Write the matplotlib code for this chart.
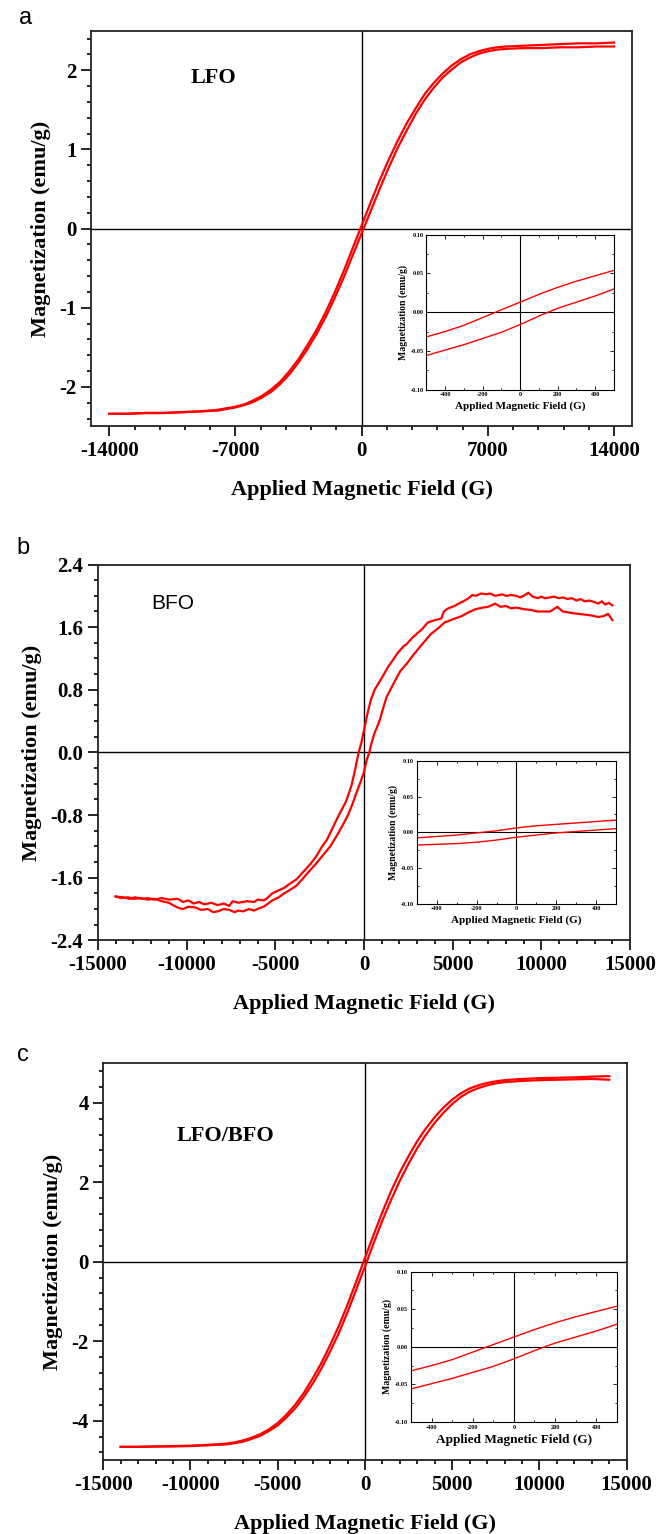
import matplotlib
matplotlib.use('Agg')
import matplotlib.pyplot as plt
from matplotlib.ticker import MultipleLocator, FormatStrFormatter

plt.rcParams['font.family'] = ['Liberation Serif', 'DejaVu Serif']
plt.rcParams['font.weight'] = 'bold'
plt.rcParams['axes.unicode_minus'] = False

# ---- panel a : LFO ----
lfo_h = [14000, 13000, 12000, 11000, 10000, 9000, 8000, 7500, 7000, 6500, 6000, 5500, 5000,
         4500, 4000, 3500, 3000, 2500, 2000, 1500, 1000, 500, 0, -500, -1000, -1500, -2000,
         -2500, -3000, -3500, -4000, -4500, -5000, -5500, -6000, -6500, -7000, -7500, -8000,
         -9000, -10000, -11000, -12000, -13000, -14000]
lfo_down = [2.35, 2.34, 2.34, 2.33, 2.32, 2.31, 2.30, 2.29, 2.27, 2.24, 2.20, 2.14, 2.06,
            1.96, 1.84, 1.70, 1.52, 1.33, 1.11, 0.87, 0.61, 0.33, 0.04, -0.25, -0.54, -0.81, -1.06,
            -1.28, -1.47, -1.65, -1.80, -1.93, -2.03, -2.11, -2.17, -2.22, -2.25, -2.27, -2.29,
            -2.31, -2.32, -2.33, -2.33, -2.34, -2.34]
lfo_up = [2.30, 2.30, 2.29, 2.29, 2.28, 2.28, 2.27, 2.26, 2.24, 2.21, 2.16, 2.10, 2.01,
          1.91, 1.78, 1.63, 1.45, 1.24, 1.02, 0.77, 0.50, 0.22, -0.06, -0.34, -0.62, -0.88, -1.12,
          -1.33, -1.52, -1.69, -1.84, -1.96, -2.06, -2.13, -2.19, -2.23, -2.26, -2.28, -2.30,
          -2.31, -2.32, -2.33, -2.33, -2.34, -2.34]

# ---- panel b : BFO (noisy) ----
bfo_down_h = [14000, 13800, 13600, 13400, 13200, 13000, 12700, 12440, 12200, 12000, 11700, 11460,
              11200, 11000, 10700, 10500, 10200, 10000, 9800, 9500, 9270, 9000, 8800, 8600, 8300,
              8000, 7800, 7640, 7400, 7100, 6900, 6600, 6300, 6100, 5900, 5600, 5330, 5100, 4750,
              4500, 4360, 4000, 3600, 3300, 3000, 2700, 2400, 2250, 1900, 1600, 1380, 1000, 600,
              400, 200, 0, -150, -300, -500, -700, -1000, -1460, -1800, -2100, -2360, -2700, -3000,
              -3400, -3800, -4200, -4500, -4800, -5170, -5450, -5650, -6000, -6200, -6600, -7080,
              -7400, -7600, -7900, -8260, -8600, -9000, -9300, -9600, -9900, -10200, -10500, -11000,
              -11400, -11800, -12200, -12500, -12900, -13200, -13600, -14000]
bfo_down = [1.88, 1.91, 1.89, 1.93, 1.90, 1.92, 1.94, 1.93, 1.96, 1.94, 1.97, 1.96,
            1.98, 1.97, 1.99, 1.98, 1.97, 1.99, 1.97, 1.99, 2.04, 2.00, 1.98, 2.00, 2.01,
            2.00, 2.02, 2.01, 2.00, 2.03, 2.02, 2.03, 2.00, 2.01, 1.97, 1.93, 1.90, 1.87, 1.84,
            1.80, 1.71, 1.69, 1.66, 1.58, 1.52, 1.46, 1.38, 1.36, 1.27, 1.17, 1.10, 0.95, 0.80,
            0.68, 0.50, 0.28, 0.12, 0.0, -0.22, -0.42, -0.62, -0.82, -0.98, -1.12, -1.20, -1.33, -1.42,
            -1.52, -1.62, -1.68, -1.73, -1.76, -1.80, -1.86, -1.89, -1.88, -1.91, -1.90, -1.92,
            -1.90, -1.96, -1.93, -1.95, -1.92, -1.94, -1.91, -1.93, -1.89, -1.91, -1.87, -1.88,
            -1.86, -1.88, -1.86, -1.87, -1.85, -1.87, -1.85, -1.84]
bfo_up_h = [-14000, -13700, -13300, -13000, -12600, -12200, -11800, -11400, -11000, -10700, -10400,
            -10200, -9900, -9500, -9200, -8800, -8500, -8260, -7900, -7600, -7300, -7080, -6800,
            -6500, -6200, -5900, -5650, -5400, -5170, -4800, -4500, -4200, -3800, -3400, -3100,
            -2700, -2300, -1900, -1500, -1200, -900, -650, -400, -200, 0, 150, 300, 450, 600, 750,
            900, 1100, 1280, 1600, 2050, 2400, 2800, 3200, 3760, 4100, 4550, 5000, 5500, 5900, 6300,
            6700, 7000, 7400, 7700, 8000, 8300, 8600, 9000, 9400, 9800, 10100, 10500, 10900, 11200,
            11500, 11700, 12100, 12450, 12800, 13200, 13500, 13760, 14000]
bfo_up = [-1.84, -1.86, -1.85, -1.87, -1.86, -1.88, -1.87, -1.90, -1.92, -1.96, -1.99,
          -2.00, -1.97, -1.98, -2.01, -2.00, -2.04, -2.03, -2.00, -2.01, -2.04, -2.02, -2.03,
          -2.00, -2.02, -1.99, -1.97, -1.93, -1.89, -1.85, -1.80, -1.76, -1.70, -1.60, -1.52,
          -1.42, -1.31, -1.20, -1.05, -0.93, -0.80, -0.66, -0.50, -0.38, -0.25, -0.10, 0.0, 0.14, 0.25, 0.33,
          0.42, 0.58, 0.71, 0.85, 1.04, 1.13, 1.25, 1.36, 1.51, 1.57, 1.66, 1.70, 1.74, 1.79, 1.83,
          1.85, 1.86, 1.90, 1.86, 1.87, 1.84, 1.85, 1.83, 1.82, 1.80, 1.80, 1.80, 1.86, 1.80,
          1.79, 1.78, 1.77, 1.76, 1.75, 1.73, 1.74, 1.77, 1.69]

# ---- panel c : LFO/BFO ----
mix_h = lfo_h
mix_down = [4.67, 4.66, 4.64, 4.63, 4.62, 4.60, 4.57, 4.54, 4.50, 4.44, 4.36, 4.24, 4.08,
            3.88, 3.64, 3.36, 3.04, 2.66, 2.25, 1.78, 1.25, 0.68, 0.10, -0.50, -1.08, -1.62, -2.10,
            -2.55, -2.94, -3.30, -3.60, -3.85, -4.06, -4.22, -4.34, -4.43, -4.50, -4.55, -4.58,
            -4.61, -4.63, -4.64, -4.65, -4.66, -4.66]
mix_up = [4.58, 4.60, 4.59, 4.58, 4.57, 4.55, 4.52, 4.49, 4.44, 4.37, 4.28, 4.15, 3.97,
          3.75, 3.50, 3.20, 2.86, 2.47, 2.04, 1.56, 1.04, 0.47, -0.12, -0.70, -1.27, -1.80, -2.26,
          -2.69, -3.07, -3.40, -3.69, -3.92, -4.12, -4.26, -4.38, -4.46, -4.53, -4.57, -4.60,
          -4.62, -4.64, -4.65, -4.65, -4.66, -4.66]

# ---- insets (low field) ----
ins_h = [-500, -400, -300, -200, -100, 0, 100, 200, 300, 400, 500]
lfo_ins_upper = [-0.032, -0.025, -0.017, -0.007, 0.003, 0.013, 0.023, 0.032, 0.040, 0.047, 0.054]
lfo_ins_lower = [-0.056, -0.049, -0.042, -0.034, -0.026, -0.016, -0.005, 0.005, 0.013, 0.021, 0.030]
bfo_ins_upper = [-0.008, -0.006, -0.004, -0.001, 0.002, 0.006, 0.009, 0.011, 0.013, 0.015, 0.017]
bfo_ins_lower = [-0.018, -0.017, -0.016, -0.014, -0.011, -0.007, -0.004, -0.001, 0.001, 0.003, 0.005]
mix_ins_upper = lfo_ins_upper
mix_ins_lower = lfo_ins_lower

fig = plt.figure(figsize=(6.66, 15.34), dpi=100)


def main_panel(rect, ylim, ymaj, ymin, xmaj, xmin, xticks, yfmt):
    ax = fig.add_axes(rect)
    ax.set_xlim(-15000, 15000)
    ax.set_ylim(*ylim)
    ax.axhline(0, color='black', lw=1, zorder=1)
    ax.axvline(0, color='black', lw=1, zorder=1)
    if xticks is not None:
        ax.set_xticks(xticks)
    else:
        ax.xaxis.set_major_locator(MultipleLocator(xmaj))
    ax.xaxis.set_minor_locator(MultipleLocator(xmin))
    ax.yaxis.set_major_locator(MultipleLocator(ymaj))
    ax.yaxis.set_minor_locator(MultipleLocator(ymin))
    ax.yaxis.set_major_formatter(FormatStrFormatter(yfmt))
    ax.tick_params(which='both', direction='out', top=False, right=False, labelsize=15, width=1.2)
    ax.tick_params(which='major', length=7)
    ax.tick_params(which='minor', length=3)
    for s in ax.spines.values():
        s.set_linewidth(1.3)
        s.set_color('#222222')
    ax.set_xlabel('Applied Magnetic Field (G)', fontsize=16, fontweight='bold', labelpad=14)
    ax.set_ylabel('Magnetization (emu/g)', fontsize=16, fontweight='bold', labelpad=6)
    return ax


def inset(rect, up, low, fs_x):
    ax = fig.add_axes(rect)
    ax.set_zorder(5)
    ax.set_facecolor('white')
    ax.set_xlim(-500, 500)
    ax.set_ylim(-0.1, 0.1)
    ax.axhline(0, color='black', lw=0.8)
    ax.axvline(0, color='black', lw=0.8)
    ax.plot(ins_h, up, color='red', lw=1)
    ax.plot(ins_h, low, color='red', lw=1)
    ax.set_xticks([-400, -200, 0, 200, 400])
    ax.xaxis.set_minor_locator(MultipleLocator(100))
    ax.set_yticks([-0.10, -0.05, 0.00, 0.05, 0.10])
    ax.yaxis.set_minor_locator(MultipleLocator(0.025))
    ax.yaxis.set_major_formatter(FormatStrFormatter('%.2f'))
    ax.tick_params(which='both', direction='in', top=True, right=True, labelsize=4.5, width=0.6, pad=2)
    ax.tick_params(which='major', length=3)
    ax.tick_params(which='minor', length=1.5)
    for s in ax.spines.values():
        s.set_linewidth(0.8)
    ax.set_xlabel('Applied Magnetic Field (G)', fontsize=fs_x, fontweight='bold', labelpad=3)
    ax.set_ylabel('Magnetization (emu/g)', fontsize=7, fontweight='bold', labelpad=2)
    return ax


# panel a
ax1 = main_panel([0.137, 0.722, 0.812, 0.258], (-2.5, 2.5), 1, 0.2, None, 1400,
                 [-14000, -7000, 0, 7000, 14000], '%g')
ax1.plot(lfo_h, lfo_down, color='red', lw=1.6)
ax1.plot(lfo_h, lfo_up, color='red', lw=1.6)
ax1.text(-8200, 1.9, 'LFO', fontsize=16, fontweight='bold', ha='center', va='center')
inset([0.640, 0.746, 0.282, 0.101], lfo_ins_upper, lfo_ins_lower, 8)
fig.text(0.038, 0.988, 'a', fontsize=17, family='Liberation Sans', fontweight='normal',
         ha='center', va='center')

# panel b
ax2 = main_panel([0.147, 0.387, 0.799, 0.245], (-2.4, 2.4), 0.8, 0.2, 5000, 1000, None, '%.1f')
ax2.plot(bfo_down_h, bfo_down, color='red', lw=1.6)
ax2.plot(bfo_up_h, bfo_up, color='red', lw=1.6)
ax2.text(-10800, 1.9, 'BFO', fontsize=15, family='Liberation Sans', fontweight='normal',
         ha='center', va='center')
inset([0.626, 0.411, 0.299, 0.093], bfo_ins_upper, bfo_ins_lower, 8)
fig.text(0.035, 0.643, 'b', fontsize=17, family='Liberation Sans', fontweight='normal',
         ha='center', va='center')

# panel c
ax3 = main_panel([0.155, 0.048, 0.786, 0.259], (-5, 5), 2, 0.4, 5000, 1000, None, '%g')
ax3.plot(mix_h, mix_down, color='red', lw=1.6)
ax3.plot(mix_h, mix_up, color='red', lw=1.6)
ax3.text(-8000, 3.17, 'LFO/BFO', fontsize=16, fontweight='bold', ha='center', va='center')
inset([0.617, 0.073, 0.309, 0.098], mix_ins_upper, mix_ins_lower, 9.5)
fig.text(0.035, 0.312, 'c', fontsize=17, family='Liberation Sans', fontweight='normal',
         ha='center', va='center')

fig.savefig('out.png', dpi=100)
